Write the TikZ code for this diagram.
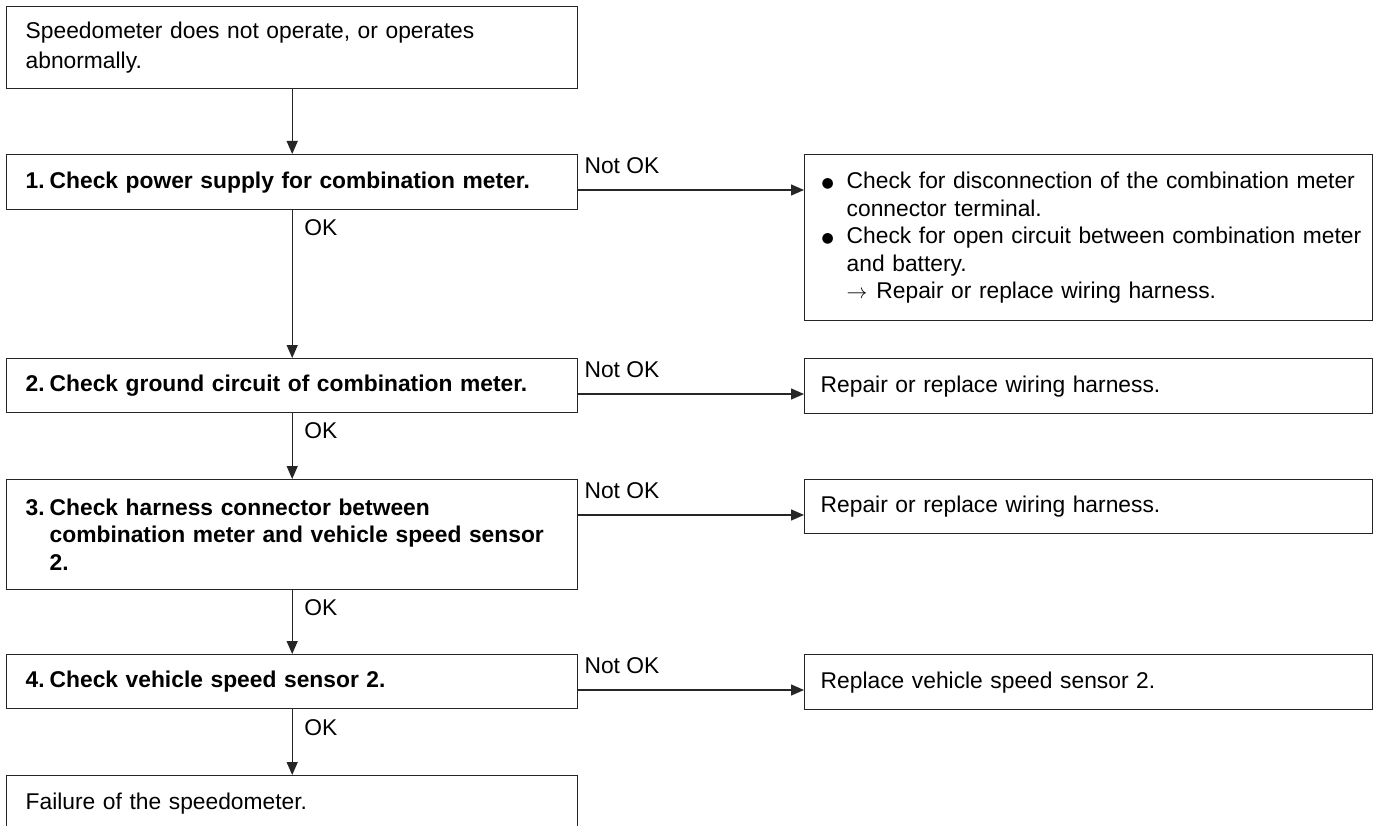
\documentclass[tikz,border=0pt]{standalone}
\usepackage{fontspec}
\setmainfont{Liberation Sans}
\newfontfamily\dejavu{DejaVu Sans}
\usetikzlibrary{arrows.meta,calc}
\newcommand\fsz{\fontsize{22.8}{27.5}\selectfont}
\newcommand\stepno[1]{\makebox[24pt][l]{#1}}
\newcommand\myind{\hspace*{24pt}}
\newcommand\rind{\hspace*{26pt}}
\newcommand\bul{\makebox[26pt][l]{\hspace{1pt}{\dejavu\fontsize{14}{14}\selectfont\raisebox{1.5pt}{●}}}}
\begin{document}
\begin{tikzpicture}[x=1pt,y=-1pt,
  frame/.style={draw=black!85, line width=1.4pt, rectangle, anchor=north west,
    inner ysep=0pt, align=left, font=\fsz},
  lbox/.style={frame, inner xsep=19pt, text width=533pt},
  sbox/.style={lbox, font=\fsz\bfseries},
  rbox/.style={frame, inner xsep=16pt, text width=536pt},
  arr/.style={draw=black!85, line width=1.4pt, -{Triangle[length=13pt,width=11pt]}},
  lbl/.style={inner sep=0pt, anchor=west, font=\fsz},
]
\fill[white] (0,0) rectangle (1375,826);
\clip (0,0) rectangle (1375,826);

% left column
\node[lbox, minimum height=82pt, font=\fontsize{22.8}{30}\selectfont] (b0) at (6,6)
  {Speedometer does not operate, or operates\\abnormally.};
\node[sbox, minimum height=55pt] (b1) at (6,154)
  {\stepno{1.}Check power supply for combination meter.};
\node[sbox, minimum height=54pt] (b2) at (6,358)
  {\stepno{2.}Check ground circuit of combination meter.};
\node[sbox, minimum height=110pt] (b3) at (6,479)
  {\stepno{3.}Check harness connector between\\\myind combination meter and vehicle speed sensor\\\myind 2.};
\node[sbox, minimum height=54pt] (b4) at (6,654)
  {\stepno{4.}Check vehicle speed sensor 2.};
\node[lbox, minimum height=55pt] (b5) at (6,775)
  {Failure of the speedometer.};

% right column
\node[rbox, minimum height=166pt] (r1) at (804,154)
  {\mbox{\bul Check for disconnection of the combination meter}\\
   \mbox{\rind connector terminal.}\\
   \mbox{\bul Check for open circuit between combination meter}\\
   \mbox{\rind and battery.}\\
   \mbox{\rind$\rightarrow$\hspace{9pt}Repair or replace wiring harness.}};
\node[rbox, minimum height=55pt] (r2) at (804,358) {Repair or replace wiring harness.};
\node[rbox, minimum height=54pt] (r3) at (804,479) {Repair or replace wiring harness.};
\node[rbox, minimum height=55pt] (r4) at (804,654) {Replace vehicle speed sensor 2.};

% vertical connectors
\draw[arr] (b0.south) -- (b1.north);
\draw[arr] (b1.south) -- (b2.north);
\draw[arr] (b2.south) -- (b3.north);
\draw[arr] (b3.south) -- (b4.north);
\draw[arr] (b4.south) -- (b5.north);

\node[lbl] (ok1) at ($(b1.south)+(12,17)$) {OK};
\node[lbl] (ok2) at ($(b2.south)+(12,17)$) {OK};
\node[lbl] (ok3) at ($(b3.south)+(12,17)$) {OK};
\node[lbl] (ok4) at ($(b4.south)+(12,18)$) {OK};

% horizontal connectors
\foreach \i in {1,2,3,4}{
  \coordinate (n\i) at ($(b\i.north east)+(0,36)$);
  \draw[arr] (n\i) -- (n\i -| r\i.west);
  \node[lbl] (nl\i) at ($(b\i.north east)+(6,12)$) {Not OK};
}
\end{tikzpicture}
\end{document}
